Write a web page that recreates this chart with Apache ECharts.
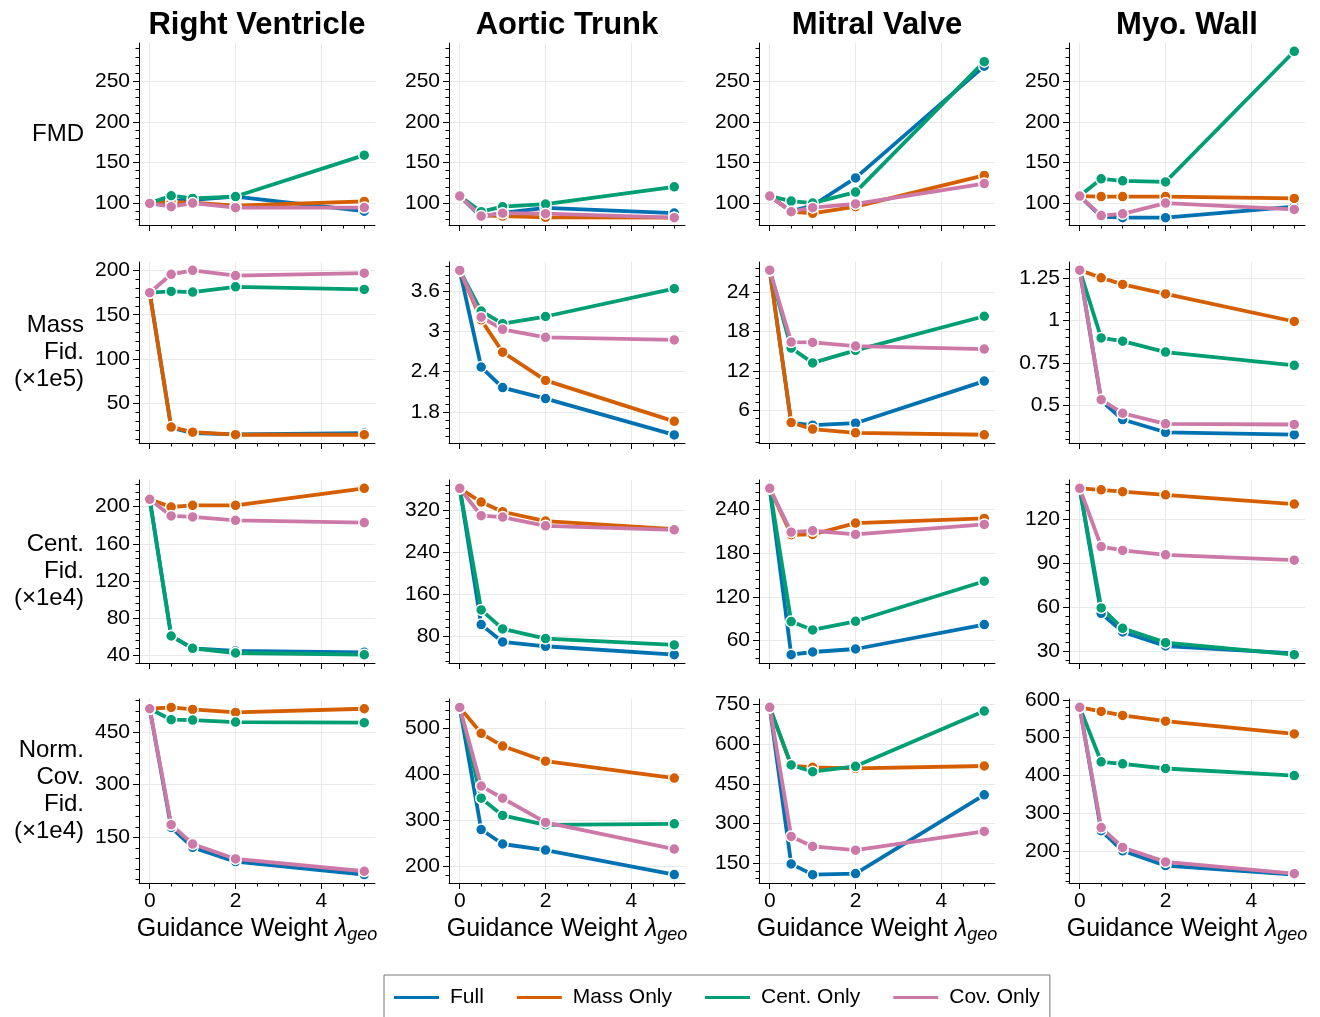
<!DOCTYPE html>
<html><head><meta charset="utf-8">
<script src="https://cdn.jsdelivr.net/npm/echarts@6/dist/echarts.min.js"></script>
<style>html,body{margin:0;padding:0;background:#fff}#c{width:1320px;height:1017px}</style>
</head><body><div id="c"></div>
<script>
// ---------------- DATA ----------------
const lambdas = [0, 0.5, 1, 2, 5];
const structures = ['Right Ventricle', 'Aortic Trunk', 'Mitral Valve', 'Myo. Wall'];
const metricLabels = ['FMD', 'Mass\nFid.\n(×1e5)', 'Cent.\nFid.\n(×1e4)', 'Norm.\nCov.\nFid.\n(×1e4)'];
const methods = ['Full', 'Mass Only', 'Cent. Only', 'Cov. Only'];
const xTickLabels = [0, 2, 4];

// each array: [Full, Mass Only, Cent. Only, Cov. Only], values at lambdas
const fmd_RV = [[100, 102, 104, 108, 90], [100, 101, 100.6, 96.7, 102], [100, 109, 105.7, 108, 159], [99.5, 95.5, 100, 94.3, 94.5]];
const fmd_AT = [[108.6, 83, 88, 94, 87.7], [108.6, 85, 84, 82.5, 82], [108.6, 89.4, 95.5, 98.7, 120], [108.6, 84, 87.5, 87, 82]];
const fmd_MV = [[108.6, 90, 97, 131, 268.5], [108.6, 89.4, 87.4, 95.5, 134], [108.6, 102.4, 100, 113.5, 274], [108.6, 89.4, 94.3, 99, 124]];
const fmd_MW = [[108.6, 83.4, 82, 82, 95.5], [108.6, 108, 108, 108, 105.7], [108.6, 129.8, 127.4, 126, 286.8], [108.6, 84.6, 86.7, 100, 92.2]];

const mass_RV = [[174.8, 23, 17, 15.5, 17], [174.8, 23.7, 18, 15.1, 15.1], [174.8, 176.2, 175.5, 181.4, 178.5], [174.8, 195.5, 200, 194, 196.7]];
const mass_AT = [[3.905, 2.469, 2.164, 2.0, 1.46], [3.905, 3.17, 2.69, 2.27, 1.662], [3.905, 3.30, 3.113, 3.22, 3.634], [3.905, 3.21, 3.03, 2.91, 2.872]];
const mass_MV = [[27.27, 4.1, 3.74, 4.04, 10.43], [27.27, 4.14, 3.14, 2.58, 2.28], [27.27, 15.45, 13.19, 15.1, 20.28], [27.27, 16.36, 16.31, 15.75, 15.3]];
const mass_MW = [[1.297, 0.53, 0.418, 0.343, 0.329], [1.297, 1.252, 1.213, 1.157, 0.995], [1.297, 0.898, 0.879, 0.815, 0.737], [1.297, 0.535, 0.455, 0.393, 0.389]];

const cent_RV = [[207.9, 61, 47.5, 44.7, 43.2], [207.9, 199.6, 201.4, 201.4, 219.7], [207.9, 60.8, 47.5, 42.5, 40.7], [207.9, 190, 188.9, 185.3, 182.8]];
const cent_AT = [[361.4, 101.6, 68.5, 60.3, 44.3], [361.4, 335.3, 316.8, 299, 283.7], [361.4, 129.6, 93.4, 74.9, 62.8], [361.4, 309.2, 306.6, 290, 282.4]];
const cent_MV = [[268.9, 40.7, 44.4, 48.5, 82], [268.9, 205.2, 205.6, 221.2, 227.6], [268.9, 86.1, 74.6, 86.5, 141.5], [268.9, 208.8, 210.7, 205.6, 219.4]];
const cent_MW = [[141, 55.7, 43, 33.4, 28.4], [141, 140, 138.7, 136.6, 130.3], [141, 59.4, 45.5, 35.7, 27.5], [141, 101.3, 98.6, 95.6, 92]];

const cov_RV = [[516.2, 178.4, 121.6, 81, 44], [516.2, 520, 514.4, 505.8, 516.2], [516.2, 485, 484, 478.4, 476.5], [516.2, 186, 131, 88.5, 53.5]];
const cov_AT = [[546.3, 279.4, 247.8, 234.6, 180.9], [546.3, 489.7, 461.8, 428.7, 391.9], [546.3, 347.8, 310.3, 289.7, 291.9], [546.3, 374.3, 347.8, 294.9, 236.8]];
const cov_MV = [[739.8, 146.2, 105.5, 109.4, 408.1], [739.8, 518.6, 512.3, 508.5, 517.4], [739.8, 521.2, 495.8, 516.1, 725.8], [739.8, 250.4, 212.3, 198.3, 269.5]];
const cov_MW = [[580.4, 253.5, 200, 160.8, 136.8], [580.4, 569.7, 559, 543.9, 510], [580.4, 436, 430.7, 418.3, 399.6], [580.4, 261.5, 208.9, 170.6, 139.4]];

// y tick labels per panel
const yt_fmd = [100, 150, 200, 250];
const yt_mass_RV = [50, 100, 150, 200];
const yt_mass_AT = [1.8, 2.4, 3, 3.6];
const yt_mass_MV = [6, 12, 18, 24];
const yt_mass_MW = [0.5, 0.75, 1, 1.25];
const yt_cent_RV = [40, 80, 120, 160, 200];
const yt_cent_AT = [80, 160, 240, 320];
const yt_cent_MV = [60, 120, 180, 240];
const yt_cent_MW = [30, 60, 90, 120];
const yt_cov_RV = [150, 300, 450];
const yt_cov_AT = [200, 300, 400, 500];
const yt_cov_MV = [150, 300, 450, 600, 750];
const yt_cov_MW = [200, 300, 400, 500, 600];

// ---------------- LAYOUT / STYLE ----------------
const colors = ['#0072B2', '#D55E00', '#009E73', '#CC79A7'];
const FONT = '"Liberation Sans", Arial, Helvetica, sans-serif';
const colLeft = [139, 449, 759, 1069];
const plotW = 236;
const rowTop = [43, 262, 480, 699];
const rowH = [182, 181, 183, 184];
const xLim = [-0.25, 5.25];

const panelData = [
  [fmd_RV, fmd_AT, fmd_MV, fmd_MW],
  [mass_RV, mass_AT, mass_MV, mass_MW],
  [cent_RV, cent_AT, cent_MV, cent_MW],
  [cov_RV, cov_AT, cov_MV, cov_MW]
];
const panelTicks = [
  [yt_fmd, yt_fmd, yt_fmd, yt_fmd],
  [yt_mass_RV, yt_mass_AT, yt_mass_MV, yt_mass_MW],
  [yt_cent_RV, yt_cent_AT, yt_cent_MV, yt_cent_MW],
  [yt_cov_RV, yt_cov_AT, yt_cov_MV, yt_cov_MW]
];
const panelLim = [
  [[73, 297], [73, 297], [73, 297], [73, 297]],
  [[5.8, 209.3], [1.34, 4.03], [1.03, 28.52], [0.28, 1.345]],
  [[31.75, 228.65], [28.4, 377.3], [29.3, 280.3], [21.8, 146.7]],
  [[20, 544], [162.6, 564.6], [73.8, 771.5], [114.6, 602.6]]
];

function minorOf(ticks, lo, hi, n) {
  const step = (ticks[1] - ticks[0]) / n;
  const out = [];
  for (let k = -400; k <= 400; k++) {
    if (k % n === 0) continue;
    const v = ticks[0] + k * step;
    if (v < lo - 1e-9 || v > hi + 1e-9) continue;
    out.push(+v.toFixed(6));
  }
  return out;
}
const xMinor = minorOf([0, 2], xLim[0], xLim[1], 4);

const grids = [], xAxes = [], yAxes = [], series = [], graphics = [];
const axisBlack = { color: '#000', width: 1 };
const gridLine = { color: '#e9e9e9', width: 1 };

for (let r = 0; r < 4; r++) {
  for (let c = 0; c < 4; c++) {
    const gi = r * 4 + c;
    grids.push({ left: colLeft[c], top: rowTop[r], width: plotW, height: rowH[r], containLabel: false, outerBoundsMode: 'none' });
    const isBottom = r === 3;
    xAxes.push({
      type: 'value', gridIndex: gi, position: 'bottom', min: xLim[0], max: xLim[1],
      axisLine: { show: true, onZero: false, lineStyle: axisBlack },
      axisTick: { show: true, customValues: xTickLabels, length: 6, lineStyle: axisBlack },
      axisLabel: { show: isBottom, customValues: xTickLabels, fontSize: 21, color: '#000', margin: 8, fontFamily: FONT },
      splitLine: { show: true, lineStyle: gridLine },
      name: isBottom ? '{a|Guidance Weight }{b|λ}{c|geo}' : '',
      nameLocation: 'middle', nameGap: 32,
      nameTextStyle: {
        rich: {
          a: { fontSize: 25, fontFamily: FONT, color: '#000', verticalAlign: 'top', lineHeight: 27 },
          b: { fontSize: 25, fontFamily: FONT, color: '#000', fontStyle: 'italic', verticalAlign: 'top', lineHeight: 27 },
          c: { fontSize: 18, fontFamily: FONT, color: '#000', fontStyle: 'italic', verticalAlign: 'bottom', lineHeight: 18, padding: [13, 0, 0, 0] }
        }
      }
    });
    xAxes.push({
      type: 'value', gridIndex: gi, position: 'bottom', min: xLim[0], max: xLim[1],
      axisLine: { show: false, onZero: false },
      axisTick: { show: true, customValues: xMinor, length: 3.5, lineStyle: axisBlack },
      axisLabel: { show: false },
      splitLine: { show: false }
    });
    const ticks = panelTicks[r][c];
    const lim = panelLim[r][c];
    yAxes.push({
      type: 'value', gridIndex: gi, position: 'left', min: lim[0], max: lim[1],
      axisLine: { show: true, onZero: false, lineStyle: axisBlack },
      axisTick: { show: true, customValues: ticks, length: 6, lineStyle: axisBlack },
      axisLabel: { show: true, customValues: ticks, fontSize: 21, color: '#000', margin: 9, fontFamily: FONT,
        formatter: v => String(+(+v).toFixed(4)) },
      splitLine: { show: true, lineStyle: gridLine }
    });
    yAxes.push({
      type: 'value', gridIndex: gi, position: 'left', min: lim[0], max: lim[1],
      axisLine: { show: false, onZero: false },
      axisTick: { show: true, customValues: minorOf(ticks, lim[0], lim[1], 5), length: 3.5, lineStyle: axisBlack },
      axisLabel: { show: false },
      splitLine: { show: false }
    });
    const vals = panelData[r][c];
    for (let m = 0; m < 4; m++) {
      series.push({
        type: 'line', name: methods[m], xAxisIndex: gi * 2, yAxisIndex: gi * 2,
        data: lambdas.map((x, i) => [x, vals[m][i]]),
        symbol: 'circle', symbolSize: 11, showSymbol: true,
        itemStyle: { color: colors[m], borderColor: '#fff', borderWidth: 1.5 },
        lineStyle: { color: colors[m], width: 3.8 },
        emphasis: { disabled: true }, silent: true, clip: false,
        animation: false
      });
    }
  }
}

for (let c = 0; c < 4; c++) {
  graphics.push({ type: 'text', x: colLeft[c] + plotW / 2, y: 25,
    style: { text: structures[c], font: 'bold 31px ' + FONT, fill: '#000', align: 'center', verticalAlign: 'middle' } });
}
for (let r = 0; r < 4; r++) {
  graphics.push({ type: 'text', x: 84, y: rowTop[r] + rowH[r] / 2,
    style: { text: metricLabels[r], fontSize: 24, fontFamily: FONT, lineHeight: 27, fill: '#000', align: 'right', verticalAlign: 'middle' } });
}

const chart = echarts.init(document.getElementById('c'), null, { renderer: 'canvas' });
chart.setOption({
  animation: false,
  backgroundColor: '#fff',
  textStyle: { fontFamily: FONT },
  grid: grids, xAxis: xAxes, yAxis: yAxes, series: series,
  graphic: graphics,
  legend: {
    data: methods.map((n, i) => ({ name: n, icon: 'rect', itemStyle: { color: colors[i], borderWidth: 0, borderColor: colors[i] } })),
    left: 384, top: 975, orient: 'horizontal',
    icon: 'rect', itemWidth: 45, itemHeight: 3, itemGap: 33,
    itemStyle: { borderWidth: 0 },
    borderColor: '#777', borderWidth: 1, padding: [12, 10, 40, 10],
    textStyle: { fontSize: 21, color: '#000', fontFamily: FONT, padding: [0, 0, 0, 6] },
    selectedMode: false
  }
});
</script></body></html>
